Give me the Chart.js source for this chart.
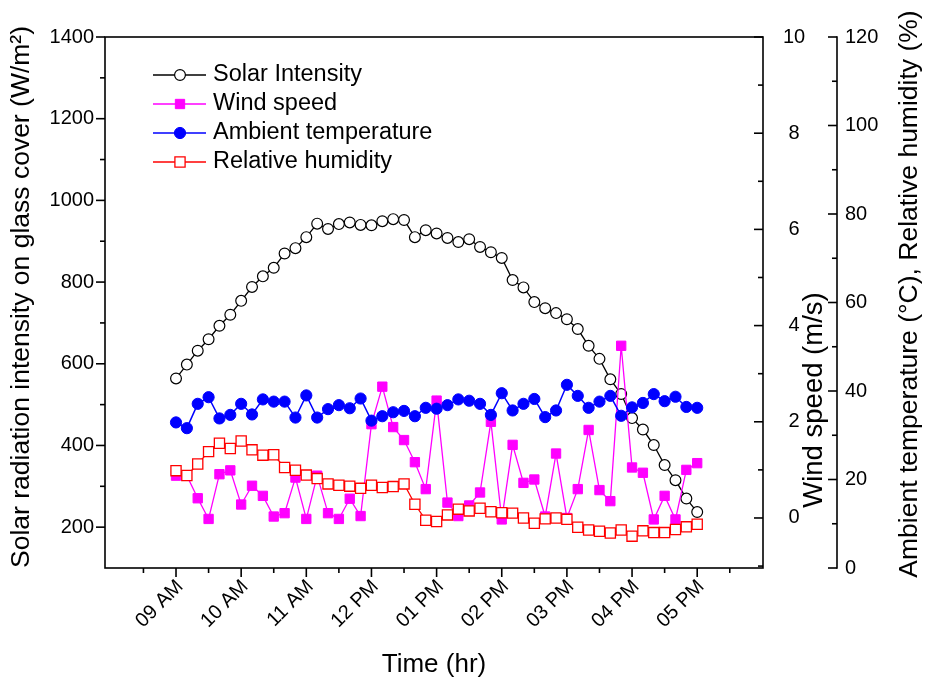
<!DOCTYPE html>
<html>
<head>
<meta charset="utf-8">
<script src="https://cdn.jsdelivr.net/npm/chart.js@4.4.1/dist/chart.umd.min.js"></script>
<style>
  html, body { margin: 0; padding: 0; background: #ffffff; }
  #wrap { width: 928px; height: 685px; }
</style>
</head>
<body>
<div id="wrap"><canvas id="c" width="928" height="685"></canvas></div>
<script>
// Sampling instants (10-minute logging interval)
const sampleTimes = [
  '09:00','09:10','09:20','09:30','09:40','09:50',
  '10:00','10:10','10:20','10:30','10:40','10:50',
  '11:00','11:10','11:20','11:30','11:40','11:50',
  '12:00','12:10','12:20','12:30','12:40','12:50',
  '13:00','13:10','13:20','13:30','13:40','13:50',
  '14:00','14:10','14:20','14:30','14:40','14:50',
  '15:00','15:10','15:20','15:30','15:40','15:50',
  '16:00','16:10','16:20','16:30','16:40','16:50',
  '17:00'
];

// Solar radiation on the glass cover (W/m2)
const solarIntensity = [
  564, 598, 632, 660, 693, 720, 754, 788, 814, 835,
  870, 883, 910, 943, 930, 942, 946, 940, 939, 949,
  954, 952, 910, 927, 919, 908, 898, 905, 886, 873,
  859, 805, 787, 751, 736, 724, 709, 685, 644, 612,
  562, 526, 467, 439, 401, 352, 315, 270, 237
];

// Wind speed (m/s)
const windSpeed = [
  0.88, 0.88, 0.41, -0.02, 0.91, 0.99, 0.28, 0.67, 0.46, 0.03,
  0.10, 0.84, -0.02, 0.88, 0.10, -0.02, 0.40, 0.04, 1.95, 2.73,
  1.89, 1.62, 1.16, 0.60, 2.44, 0.32, 0.04, 0.26, 0.53, 2.00,
  -0.03, 1.52, 0.73, 0.80, 0.03, 1.34, 0.00, 0.60, 1.83, 0.58,
  0.35, 3.58, 1.05, 0.94, -0.03, 0.46, -0.03, 1.00, 1.14
];

// Ambient temperature (deg C)
const ambientTemp = [
  32.9, 31.6, 37.1, 38.6, 33.8, 34.6, 37.1, 34.7, 38.1, 37.6,
  37.6, 34.0, 39.0, 34.0, 35.9, 36.8, 36.1, 38.3, 33.3, 34.3,
  35.2, 35.5, 34.3, 36.2, 36.0, 36.8, 38.1, 37.8, 37.1, 34.6,
  39.5, 35.6, 37.1, 38.2, 34.1, 35.6, 41.4, 38.9, 36.2, 37.6,
  38.9, 34.4, 36.3, 37.3, 39.3, 37.7, 38.7, 36.4, 36.2
];

// Relative humidity (%)
const relHumidity = [
  22.0, 20.9, 23.5, 26.3, 28.2, 27.0, 28.7, 26.7, 25.5, 25.6,
  22.7, 22.1, 21.0, 20.2, 19.0, 18.7, 18.5, 18.0, 18.7, 18.2,
  18.4, 19.0, 14.4, 10.8, 10.5, 12.0, 13.3, 12.9, 13.5, 12.7,
  12.5, 12.4, 11.3, 10.1, 11.1, 11.3, 11.0, 9.2, 8.6, 8.3,
  7.9, 8.6, 7.2, 8.4, 8.0, 8.0, 8.7, 9.3, 9.9
];

// Axis ticks and labels
const hourTicks  = [9, 10, 11, 12, 13, 14, 15, 16, 17];
const hourLabels = ['09 AM', '10 AM', '11 AM', '12 PM', '01 PM', '02 PM', '03 PM', '04 PM', '05 PM'];
const halfHourTicks = [8.5, 9.5, 10.5, 11.5, 12.5, 13.5, 14.5, 15.5, 16.5, 17.5];
const solarTicks = [200, 400, 600, 800, 1000, 1200, 1400];
const solarMinorTicks = [300, 500, 700, 900, 1100, 1300];
const windTicks = [0, 2, 4, 6, 8, 10];
const windMinorTicks = [-1, 1, 3, 5, 7, 9];
const tempRhTicks = [0, 20, 40, 60, 80, 100, 120];
const tempRhMinorTicks = [10, 30, 50, 70, 90, 110];

const FONT = 'Arial, "Liberation Sans", sans-serif';

const hours = sampleTimes.map(t => {
  const [h, m] = t.split(':').map(Number);
  return h + m / 60;
});
const pts = vals => vals.map((v, i) => ({ x: hours[i], y: v }));

function fixTicks(list) {
  return scale => { scale.ticks = list.map(v => ({ value: v })); };
}
const plainLabel = v => String(v);

// Frame, tick marks, axis titles and the in-plot legend
const decorations = {
  id: 'decorations',
  afterDraw(chart) {
    const { ctx, chartArea: a, scales } = chart;
    const sx = scales.x, sl = scales.ySolar, sw = scales.yWind, sr = scales.yTempRh;
    ctx.save();
    ctx.strokeStyle = '#000';
    ctx.lineWidth = 1.6;
    ctx.lineCap = 'butt';

    // plot frame
    ctx.strokeRect(a.left, a.top, a.right - a.left, a.bottom - a.top);

    const tick = (x1, y1, x2, y2) => { ctx.beginPath(); ctx.moveTo(x1, y1); ctx.lineTo(x2, y2); ctx.stroke(); };

    // x axis: major hours, minor half hours, pointing down
    hourTicks.forEach(v => { const x = sx.getPixelForValue(v); tick(x, a.bottom, x, a.bottom + 9); });
    halfHourTicks.forEach(v => { const x = sx.getPixelForValue(v); tick(x, a.bottom, x, a.bottom + 5); });

    // left axis, pointing out
    solarTicks.forEach(v => { const y = sl.getPixelForValue(v); tick(a.left, y, a.left - 9, y); });
    solarMinorTicks.forEach(v => { const y = sl.getPixelForValue(v); tick(a.left, y, a.left - 5, y); });

    // wind axis on the right frame, pointing in
    windTicks.forEach(v => { const y = sw.getPixelForValue(v); tick(a.right, y, a.right - 9, y); });
    windMinorTicks.forEach(v => { const y = sw.getPixelForValue(v); tick(a.right, y, a.right - 5, y); });

    // offset temperature / humidity axis
    const rx = sr.left;
    tick(rx, a.top - 0.8, rx, a.bottom + 0.8);
    tempRhTicks.forEach(v => { const y = sr.getPixelForValue(v); tick(rx, y, rx - 9, y); });
    tempRhMinorTicks.forEach(v => { const y = sr.getPixelForValue(v); tick(rx, y, rx - 5, y); });

    // axis titles
    ctx.fillStyle = '#000';
    ctx.textAlign = 'center';
    ctx.textBaseline = 'middle';
    ctx.font = '26px ' + FONT;
    ctx.fillText('Time (hr)', (a.left + a.right) / 2, 665);
    const vtext = (txt, x, y) => {
      ctx.save(); ctx.translate(x, y); ctx.rotate(-Math.PI / 2); ctx.fillText(txt, 0, 0); ctx.restore();
    };
    ctx.font = '26.5px ' + FONT;
    vtext('Solar radiation intensity on glass cover (W/m\u00B2)', sl.left + 22, 297);
    vtext('Ambient temperature (\u00B0C), Relative humidity (%)', sr.left + 73, 294);
    ctx.font = '27.5px ' + FONT;
    vtext('Wind speed (m/s)', sw.left + 51, 400);

    // legend
    ctx.font = '23.5px ' + FONT;
    ctx.textAlign = 'left';
    chart.data.datasets.forEach((ds, i) => {
      const y = 75 + i * 29;
      ctx.save();
      ctx.strokeStyle = ds.borderColor;
      ctx.lineWidth = ds.borderWidth;
      tick(153, y, 206, y);
      ctx.fillStyle = ds.pointBackgroundColor;
      ctx.strokeStyle = ds.pointBorderColor;
      ctx.lineWidth = ds.pointBorderWidth;
      Chart.helpers.drawPoint(ctx, { pointStyle: ds.pointStyle, rotation: 0, radius: ds.pointRadius, borderWidth: ds.pointBorderWidth }, 180, y);
      ctx.restore();
      ctx.fillStyle = '#000';
      ctx.fillText(ds.label, 213, y);
    });
    ctx.restore();
  }
};

new Chart(document.getElementById('c'), {
  type: 'line',
  data: {
    datasets: [
      {
        label: 'Solar Intensity', data: pts(solarIntensity), yAxisID: 'ySolar', order: 4,
        borderColor: '#000000', borderWidth: 1.3,
        pointStyle: 'circle', pointRadius: 5.4, pointBackgroundColor: '#ffffff',
        pointBorderColor: '#000000', pointBorderWidth: 1.2
      },
      {
        label: 'Wind speed', data: pts(windSpeed), yAxisID: 'yWind', order: 3,
        borderColor: '#ff00ff', borderWidth: 1.3,
        pointStyle: 'rect', pointRadius: 6.6, pointBackgroundColor: '#ff00ff',
        pointBorderColor: '#ff00ff', pointBorderWidth: 1
      },
      {
        label: 'Ambient temperature', data: pts(ambientTemp), yAxisID: 'yTempRh', order: 2,
        borderColor: '#0000ff', borderWidth: 1.5,
        pointStyle: 'circle', pointRadius: 5.6, pointBackgroundColor: '#0000ff',
        pointBorderColor: '#0000ff', pointBorderWidth: 1
      },
      {
        label: 'Relative humidity', data: pts(relHumidity), yAxisID: 'yTempRh', order: 1,
        borderColor: '#ff0000', borderWidth: 1.3,
        pointStyle: 'rect', pointRadius: 7.2, pointBackgroundColor: '#ffffff',
        pointBorderColor: '#ff0000', pointBorderWidth: 1.3
      }
    ]
  },
  options: {
    responsive: false,
    animation: false,
    devicePixelRatio: 1,
    layout: { padding: { top: 37, left: 0, right: 0, bottom: 0 } },
    plugins: { legend: { display: false }, tooltip: { enabled: false } },
    elements: { line: { tension: 0 } },
    scales: {
      x: {
        type: 'linear', position: 'bottom', min: 7.91, max: 18.01,
        afterBuildTicks: fixTicks(hourTicks),
        afterFit: s => { s.height = 117; },
        grid: { display: false, drawTicks: false }, border: { display: false },
        ticks: {
          autoSkip: false, minRotation: 45, maxRotation: 45, padding: 7, labelOffset: 4,
          color: '#000', font: { family: FONT, size: 20 },
          callback: v => { const i = hourTicks.indexOf(v); return i >= 0 ? hourLabels[i] : ''; }
        }
      },
      ySolar: {
        type: 'linear', position: 'left', min: 100, max: 1400,
        afterBuildTicks: fixTicks(solarTicks),
        afterFit: s => { s.width = 105; },
        grid: { display: false, drawTicks: false }, border: { display: false },
        ticks: { padding: 11, color: '#000', font: { family: FONT, size: 20 }, callback: plainLabel }
      },
      yWind: {
        type: 'linear', position: 'right', weight: 0, min: -1.04, max: 10,
        afterBuildTicks: fixTicks(windTicks),
        afterFit: s => { s.width = 74; },
        grid: { display: false, drawTicks: false }, border: { display: false },
        ticks: { padding: 20, crossAlign: 'center', color: '#000', font: { family: FONT, size: 20 }, callback: plainLabel }
      },
      yTempRh: {
        type: 'linear', position: 'right', weight: 1, min: 0, max: 120,
        afterBuildTicks: fixTicks(tempRhTicks),
        afterFit: s => { s.width = 91; },
        grid: { display: false, drawTicks: false }, border: { display: false },
        ticks: { padding: 8, color: '#000', font: { family: FONT, size: 20 }, callback: plainLabel }
      }
    }
  },
  plugins: [decorations]
});
</script>
</body>
</html>
